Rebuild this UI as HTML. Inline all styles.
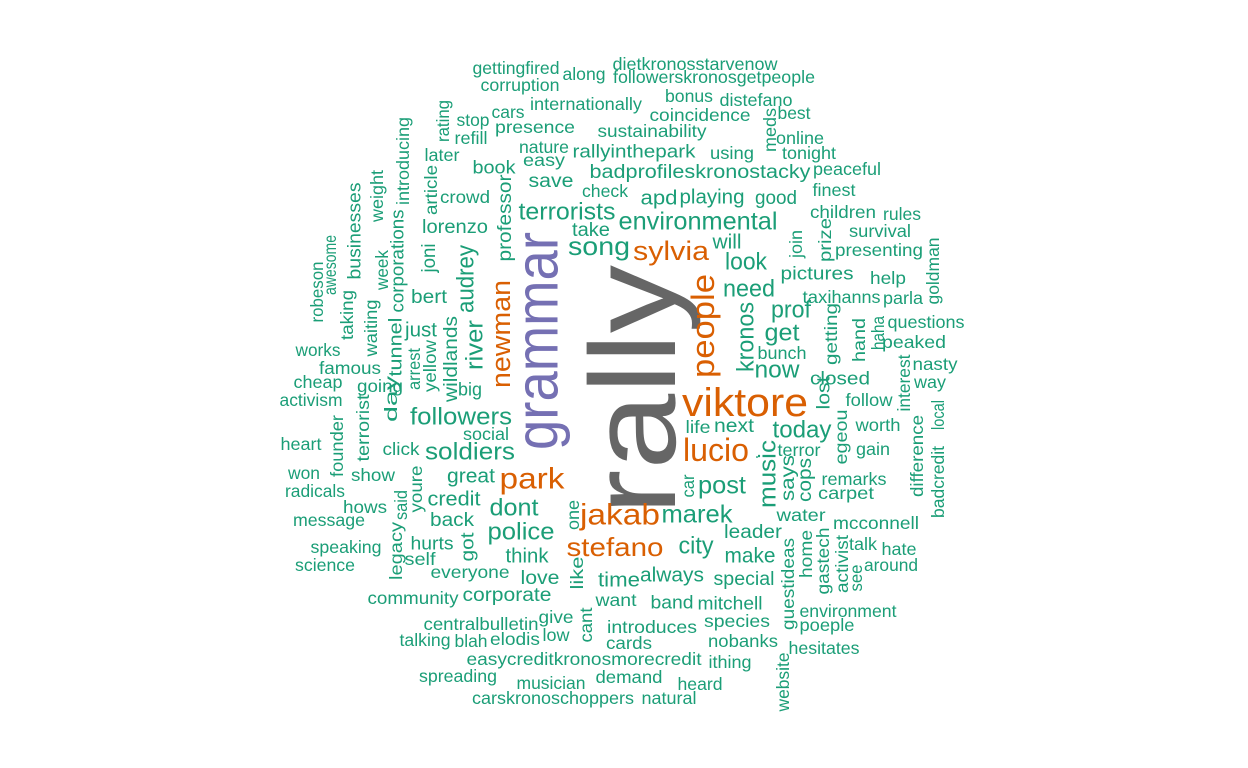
<!DOCTYPE html>
<html><head><meta charset="utf-8"><style>
html,body{margin:0;padding:0;background:#fff;width:1248px;height:768px;overflow:hidden}
svg text{font-family:"Liberation Sans",Arial,sans-serif}
</style></head><body>
<svg id="cloud" width="1248" height="768" viewBox="0 0 1248 768" xmlns="http://www.w3.org/2000/svg"></svg>
<script>
// word, centerX, centerY, fontSize, length, vertical(1/0), colorIndex
const colors=["#1b9e77","#d95f02","#7570b3","#666666"];
const words=[
["rally",633,390,122,250,1,3],["grammar",537,341,60,218,1,2],
["viktore",745,403,40,126,0,1],["people",703,326,32,104,1,1],["lucio",716,450,32,66,0,1],
["jakab",620,515,30,80,0,1],["park",532,479,30,65,0,1],["newman",501,334,27,108,1,1],
["sylvia",671,251,27,76,0,1],["stefano",615,547,26,97,0,1],
["gettingfired",516,68,16,87,0,0],["along",584,74,16,43,0,0],["dietkronosstarvenow",695,64,16,165,0,0],
["followerskronosgetpeople",714,77,16,202,0,0],["corruption",520,85,16,79,0,0],["internationally",586,104,16,112,0,0],
["cars",508,112,16,33,0,0],["stop",473,120,16,33,0,0],["presence",535,127,16,80,0,0],["refill",471,138,16,33,0,0],
["rating",443,121,16,42,1,0],["bonus",689,96,16,48,0,0],["distefano",756,100,16,73,0,0],["coincidence",700,115,16,101,0,0],
["meds",770,130,16,44,1,0],["best",794,113,16,33,0,0],["sustainability",652,131,16,109,0,0],["online",800,138,16,48,0,0],
["tonight",809,153,16,54,0,0],["using",732,153,16,44,0,0],["nature",544,147,16,50,0,0],["easy",544,160,16,42,0,0],
["rallyinthepark",634,151,17,123,0,0],["later",442,155,16,35,0,0],["book",494,167,17,43,0,0],["introducing",403,161,16,88,1,0],
["save",551,181,18,45,0,0],["badprofileskronostacky",700,172,18,221,0,0],["peaceful",847,169,16,68,0,0],["check",605,191,16,46,0,0],
["finest",834,190,16,43,0,0],["weight",377,196,16,52,1,0],["article",431,190,16,50,1,0],["crowd",465,197,16,50,0,0],
["apd",659,198,19,37,0,0],["playing",712,197,19,65,0,0],["good",776,198,18,42,0,0],["businesses",354,231,17,97,1,0],
["terrorists",567,212,22,97,0,0],["children",843,212,16,66,0,0],["rules",902,214,16,38,0,0],["professor",505,218,18,87,1,0],
["corporations",397,261,17,103,1,0],["lorenzo",455,227,18,66,0,0],["take",591,230,18,38,0,0],["environmental",698,222,23,159,0,0],
["awesome",330,265,16,60,1,0],["robeson",317,292,16,61,1,0],["joni",429,258,18,29,1,0],["audrey",466,279,22,68,1,0],
["song",599,246,26,62,0,0],["will",727,242,19,29,0,0],["join",796,244,16,28,1,0],["prize",825,240,16,44,1,0],
["survival",880,231,16,62,0,0],["presenting",879,250,16,88,0,0],["goldman",933,271,16,67,1,0],["week",382,270,16,40,1,0],
["look",746,262,22,42,0,0],["taking",347,315,16,50,1,0],["bert",429,297,18,36,0,0],["pictures",817,273,17,73,0,0],
["help",888,278,16,36,0,0],["need",749,289,22,52,0,0],["waiting",371,328,16,57,1,0],["taxi",817,297,16,29,0,0],
["hanns",856,297,16,49,0,0],["parla",903,298,16,40,0,0],["tunnel",395,347,17,59,1,0],["just",421,330,19,32,0,0],
["prof",791,310,22,40,0,0],["wildlands",451,359,18,86,1,0],["river",475,345,22,50,1,0],["kronos",746,337,22,70,1,0],
["hand",859,340,16,44,1,0],["haha",878,333,16,34,1,0],["questions",926,322,16,77,0,0],["get",782,333,22,35,0,0],
["getting",831,334,16,62,1,0],["peaked",914,342,16,64,0,0],["arrest",414,369,16,42,1,0],["yellow",430,366,16,52,1,0],
["works",318,350,16,45,0,0],["bunch",782,353,16,49,0,0],["now",777,370,22,45,0,0],["nasty",935,364,16,45,0,0],
["famous",350,368,16,62,0,0],["interest",904,383,16,57,1,0],["closed",840,378,17,60,0,0],["way",930,382,16,32,0,0],
["cheap",318,382,16,49,0,0],["going",380,386,16,46,0,0],["big",470,389,17,24,0,0],["lost",823,393,17,33,1,0],
["day",391,399,16,46,1,0],["activism",311,400,16,63,0,0],["terrorist",363,428,16,67,1,0],["followers",461,417,22,102,0,0],
["follow",869,400,16,47,0,0],["local",938,415,16,30,1,0],["founder",337,446,16,62,1,0],["social",486,434,16,46,0,0],
["life",698,427,16,25,0,0],["next",734,426,18,40,0,0],["today",802,430,22,59,0,0],["egeou",841,437,16,55,1,0],
["worth",878,425,16,45,0,0],["heart",301,444,16,41,0,0],["click",401,449,16,37,0,0],["soldiers",470,452,22,90,0,0],
["music",768,474,22,68,1,0],["terror",799,450,16,43,0,0],["gain",873,449,16,34,0,0],["difference",917,456,16,82,1,0],
["badcredit",938,482,16,72,1,0],["won",304,473,16,32,0,0],["show",373,475,16,44,0,0],["youre",416,489,16,47,1,0],
["great",471,476,19,48,0,0],["says",788,478,18,46,1,0],["cops",805,480,18,44,1,0],["radicals",315,491,16,60,0,0],
["credit",454,499,19,53,0,0],["remarks",854,479,16,65,0,0],["car",688,486,16,23,1,0],["post",722,486,23,48,0,0],
["carpet",846,493,16,56,0,0],["hows",365,507,16,44,0,0],["said",401,505,16,30,1,0],["one",573,515,16,30,1,0],
["marek",697,515,23,71,0,0],["dont",514,508,22,49,0,0],["message",329,520,16,72,0,0],["back",452,520,18,44,0,0],
["water",801,515,16,49,0,0],["legacy",396,551,16,58,1,0],["police",521,532,22,67,0,0],["leader",753,532,18,58,0,0],
["mcconnell",876,523,16,86,0,0],["hurts",432,543,17,43,0,0],["got",467,547,17,29,1,0],["city",696,546,22,35,0,0],
["guestideas",788,584,16,92,1,0],["home",806,554,16,48,1,0],["gastech",823,561,16,67,1,0],["activist",842,564,16,58,1,0],
["see",856,578,16,27,1,0],["talk",863,544,16,28,0,0],["hate",899,549,16,35,0,0],["speaking",346,547,16,71,0,0],
["think",527,556,19,43,0,0],["make",750,555,20,51,0,0],["self",420,559,16,31,0,0],["around",891,565,16,54,0,0],
["science",325,565,16,60,0,0],["everyone",470,572,16,79,0,0],["love",540,578,18,39,0,0],["time",619,580,19,42,0,0],
["always",672,575,19,64,0,0],["special",744,579,18,61,0,0],["like",577,573,16,33,1,0],["community",413,598,16,91,0,0],
["corporate",507,595,18,89,0,0],["want",616,600,16,41,0,0],["band",672,602,17,43,0,0],["mitchell",730,603,17,65,0,0],
["environment",848,611,16,97,0,0],["give",556,617,16,35,0,0],["cant",586,625,16,35,1,0],["centralbulletin",481,624,16,115,0,0],
["species",737,621,16,66,0,0],["poeple",827,625,16,55,0,0],["introduces",652,627,16,90,0,0],["talking",425,640,16,51,0,0],
["blah",471,641,16,33,0,0],["elodis",515,639,16,50,0,0],["low",556,635,16,27,0,0],["cards",629,643,16,46,0,0],
["nobanks",743,641,16,70,0,0],["hesitates",824,648,16,71,0,0],["easycreditkronosmorecredit",584,659,16,235,0,0],
["ithing",730,662,16,43,0,0],["website",783,682,16,59,1,0],["spreading",458,676,16,78,0,0],["demand",629,677,16,67,0,0],
["musician",551,683,16,69,0,0],["heard",700,684,16,45,0,0],["carskronoschoppers",553,698,16,162,0,0],["natural",669,698,16,55,0,0],
[".",757,452,16,4,0,0]
];
const svg=document.getElementById('cloud');
const NS="http://www.w3.org/2000/svg";
words.forEach(w=>{
  const t=document.createElementNS(NS,'text');
  
  
  t.setAttribute('text-anchor','middle');
  t.setAttribute('dominant-baseline','central');
  const fs=w[3]<25?w[3]*1.08:w[3];
  t.setAttribute('font-size',fs);
  t.setAttribute('fill',colors[w[6]]);
  t.setAttribute('textLength',w[4]);
  t.setAttribute('lengthAdjust','spacingAndGlyphs');
  t.setAttribute('x',0);t.setAttribute('y',0);
  t.setAttribute('transform','translate('+w[1]+','+w[2]+')'+(w[5]?' rotate(-90)':''));
  t.textContent=w[0];
  svg.appendChild(t);
});
</script>
</body></html>
